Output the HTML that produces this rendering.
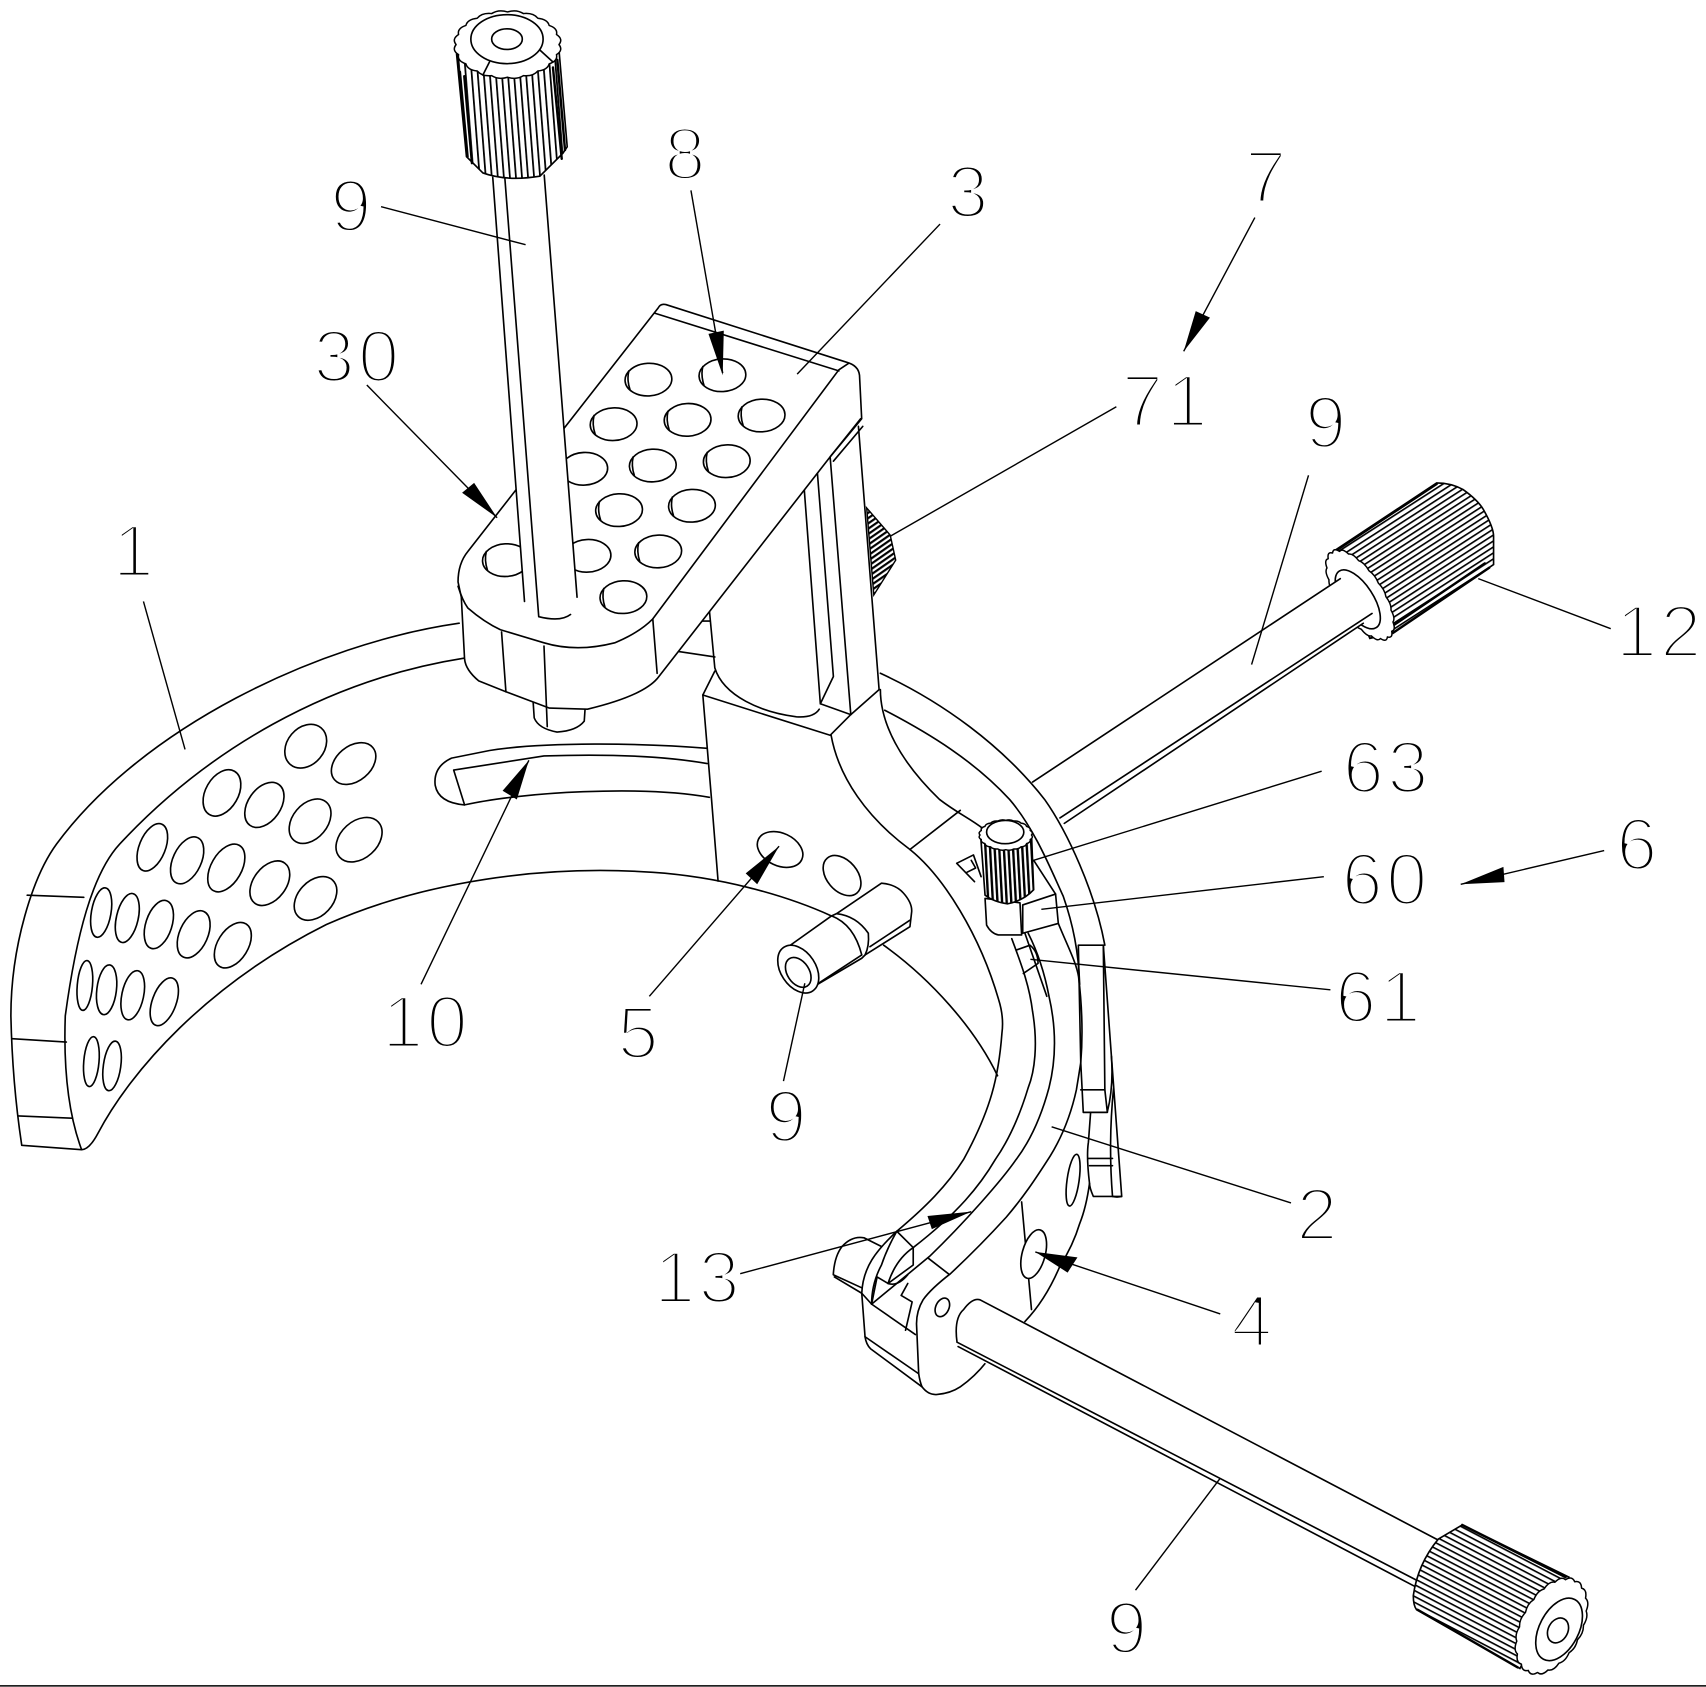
<!DOCTYPE html>
<html><head><meta charset="utf-8"><style>
html,body{margin:0;padding:0;background:#fff;width:1706px;height:1687px;overflow:hidden}
svg{display:block}
.t{font-family:"Liberation Sans",sans-serif;font-size:68px;fill:#000;stroke:#fff;stroke-width:3.6px;paint-order:fill;text-anchor:middle;letter-spacing:3px}
.l{fill:none;stroke:#000;stroke-width:1.5;stroke-linejoin:round;stroke-linecap:round}
.ld{fill:none;stroke:#000;stroke-width:1.3}
.w{fill:#fff;stroke:#000;stroke-width:1.5;stroke-linejoin:round}
.a{fill:#000;stroke:none}
.sc{fill:#fff;stroke:#000;stroke-width:1.5;vector-effect:non-scaling-stroke;stroke-linejoin:round}
.th{fill:none;stroke:#000;stroke-width:2.2;stroke-linecap:round}
</style></head><body>
<svg width="1706" height="1687" viewBox="0 0 1558 1551" preserveAspectRatio="none" xmlns="http://www.w3.org/2000/svg">
<defs>
<pattern id="k1" width="5.5" height="20" patternUnits="userSpaceOnUse" patternTransform="rotate(-4.4)"><rect width="5.5" height="20" fill="#fff"/><rect width="1.6" height="20" fill="#000"/></pattern>
<pattern id="k2" width="20" height="4.6" patternUnits="userSpaceOnUse" patternTransform="rotate(-33)"><rect width="20" height="4.6" fill="#fff"/><rect width="20" height="1.5" fill="#000"/></pattern>
<pattern id="k3" width="20" height="4.8" patternUnits="userSpaceOnUse" patternTransform="rotate(27.6)"><rect width="20" height="4.8" fill="#fff"/><rect width="20" height="1.5" fill="#000"/></pattern>
<pattern id="k4" width="4.2" height="20" patternUnits="userSpaceOnUse" patternTransform="rotate(-3)"><rect width="4.2" height="20" fill="#fff"/><rect width="2.2" height="20" fill="#000"/></pattern>
<pattern id="k5" width="20" height="4" patternUnits="userSpaceOnUse" patternTransform="rotate(-35)"><rect width="20" height="4" fill="#fff"/><rect width="20" height="2" fill="#000"/></pattern>
<g id="h"><ellipse rx="21.5" ry="15" transform="rotate(-3)" class="w"/><path class="l" d="M-18,-8 Q-20,0 -17,9"/></g>
<path id="s" class="sc" d="M100,0Q108.7,17.2 95.1,30.9Q98,49.9 80.9,58.8Q77.8,77.8 58.8,80.9Q49.9,98 30.9,95.1Q17.2,108.7 0,100Q-17.2,108.7 -30.9,95.1Q-49.9,98 -58.8,80.9Q-77.8,77.8 -80.9,58.8Q-98,49.9 -95.1,30.9Q-108.7,17.2 -100,0Q-108.7,-17.2 -95.1,-30.9Q-98,-49.9 -80.9,-58.8Q-77.8,-77.8 -58.8,-80.9Q-49.9,-98 -30.9,-95.1Q-17.2,-108.7 0,-100Q17.2,-108.7 30.9,-95.1Q49.9,-98 58.8,-80.9Q77.8,-77.8 80.9,-58.8Q98,-49.9 95.1,-30.9Q108.7,-17.2 100,0Z"/>
</defs>
<rect width="1558" height="1551" fill="#fff"/>

<!-- labels -->
<g class="t" transform="translate(2 0) scale(.9936 1)">
<text x="322" y="213">9</text>
<text x="629" y="165">8</text>
<text x="889" y="200">3</text>
<text x="1163" y="186">7</text>
<text x="327" y="351">30</text>
<text x="1070" y="392">71</text>
<text x="1218" y="412">9</text>
<text x="122" y="530">1</text>
<text x="1524" y="604">12</text>
<text x="1273" y="729">63</text>
<text x="1504" y="800">6</text>
<text x="1272" y="832">60</text>
<text x="1266" y="940">61</text>
<text x="390" y="963">10</text>
<text x="586" y="973">5</text>
<text x="722" y="1050">9</text>
<text x="1210" y="1140">2</text>
<text x="640" y="1198">13</text>
<text x="1150" y="1238">4</text>
<text x="1035" y="1520">9</text>
</g>

<!-- bottom rule -->
<path d="M0,1550H1558" stroke="#000" stroke-width="1.4"/>

<!-- part 1 band -->
<g transform="scale(.9936 1)">
<g class="l">
<path d="M422,573C290,592 130,670 52,776C30,806 10,870 10,934C11,980 15,1020 20,1053L75,1057"/>
<path d="M427,605C300,625 190,690 110,776C85,803 70,860 60,934C58,990 65,1030 75,1057"/>
<path d="M75,1057Q82,1057 90,1042C120,985 190,905 300,850C390,810 500,795 600,802C660,806 720,822 764,842"/>
<path d="M25,823L77,825M11,955L61,958M17,1026L66,1028"/>
<!-- slot -->
<path d="M650,688C590,683 500,682 450,690L415,697Q398,705 400,722Q403,738 427,740C480,728 590,722 652,733"/>
<path d="M417,708L500,695C560,693 610,695 650,702M417,708L427,740"/>
</g>
<!-- holes part 1 -->
<g class="l">
<ellipse cx="281" cy="686" rx="17" ry="22" transform="rotate(40 281 686)"/>
<ellipse cx="325" cy="702" rx="16" ry="23" transform="rotate(50 325 702)"/>
<ellipse cx="204" cy="729" rx="15" ry="23" transform="rotate(30 204 729)"/>
<ellipse cx="243" cy="740" rx="15" ry="23" transform="rotate(35 243 740)"/>
<ellipse cx="285" cy="755" rx="16" ry="23" transform="rotate(40 285 755)"/>
<ellipse cx="330" cy="772" rx="17" ry="24" transform="rotate(48 330 772)"/>
<ellipse cx="140" cy="779" rx="12" ry="23" transform="rotate(22 140 779)"/>
<ellipse cx="172" cy="791" rx="13" ry="23" transform="rotate(25 172 791)"/>
<ellipse cx="208" cy="798" rx="14" ry="24" transform="rotate(30 208 798)"/>
<ellipse cx="248" cy="812" rx="15" ry="23" transform="rotate(37 248 812)"/>
<ellipse cx="290" cy="826" rx="16" ry="23" transform="rotate(43 290 826)"/>
<ellipse cx="93" cy="839" rx="9" ry="23" transform="rotate(10 93 839)"/>
<ellipse cx="117" cy="844" rx="10" ry="23" transform="rotate(13 117 844)"/>
<ellipse cx="146" cy="850" rx="12" ry="23" transform="rotate(18 146 850)"/>
<ellipse cx="178" cy="859" rx="13" ry="23" transform="rotate(24 178 859)"/>
<ellipse cx="214" cy="869" rx="14" ry="23" transform="rotate(32 214 869)"/>
<ellipse cx="78" cy="906" rx="7" ry="23" transform="rotate(5 78 906)"/>
<ellipse cx="98" cy="910" rx="9" ry="23" transform="rotate(7 98 910)"/>
<ellipse cx="122" cy="915" rx="10" ry="23" transform="rotate(12 122 915)"/>
<ellipse cx="151" cy="921" rx="11" ry="23" transform="rotate(20 151 921)"/>
<ellipse cx="84" cy="976" rx="7" ry="23" transform="rotate(5 84 976)"/>
<ellipse cx="103" cy="980" rx="8" ry="23" transform="rotate(8 103 980)"/>
<ellipse cx="717" cy="781" rx="22" ry="15" transform="rotate(25 717 781)"/>
</g>
</g>

<!-- right band arcs -->
<g class="l">
<path d="M807,869C850,900 890,945 911,989"/>
<path d="M804,619C860,645 915,685 954,735C975,765 1000,820 1009,869"/>
<path d="M808,653C850,675 890,700 922,735C945,762 960,800 971,824C980,850 985,875 986,905"/>
<path d="M804,634C804,665 822,700 858,735C875,748 885,752 898,762"/>
<path d="M831,781L877,745"/>
<path d="M944,791L964,822"/>
<path d="M759,676C766,715 792,752 831,781C862,806 895,860 912,919Q917,935 915,950C912,990 905,1020 880,1066C865,1090 845,1110 819,1132C800,1150 788,1165 787,1189L790,1229Q791,1236 795,1240L842,1275"/>
<path d="M924,863C932,885 940,905 943,930C948,960 945,985 939,1000C930,1030 920,1050 909,1066C895,1090 875,1115 834,1147"/>
<path d="M834,1147L834,1163L811,1180Q818,1158 834,1147"/>
<path d="M811,1180Q820,1183 829,1172"/>
<path d="M939,858C950,880 955,900 958,916Q968,960 958,1000C950,1030 940,1050 928,1066C915,1085 880,1125 849,1155L796,1199"/>
<path d="M936,858L956,916"/>
<path d="M966.5,849C975,870 983,885 985,898Q990,940 987,977Q985,990 983,1002C978,1025 970,1045 959,1063C945,1085 935,1100 919,1119C900,1140 885,1155 868,1171Q850,1185 843,1195Q837,1205 837,1217L839,1263Q840,1270 842,1275Q848,1283 856,1282Q868,1281 877,1275Q890,1266 901,1252"/>
<!-- tab -->
<path d="M984.8,869H1007.6L1009,1002L1011.3,1022.7H989.3L987,977Z"/>
<path d="M987,1002H1009"/>
<path d="M1007.6,869Q1012,930 1015,971Q1017,1000 1011.3,1022"/>
<path d="M1015,971L1024.4,1100Q1020,1101 1016,1100Q1012,1050 1017,1000"/>
<path d="M1024.4,1100H998.5Q995,1092 995,1088Q992,1063 994,1050L996,1022.7"/>
<path d="M994,1065H1016M995,1071.7H1016"/>
<!-- lower part 1 -->
<path d="M995,1088Q992,1110 986,1125Q980,1145 968,1164Q955,1195 936,1215"/>
<path d="M933,1105L942,1204"/>
<ellipse cx="944" cy="1153" rx="10.5" ry="23" transform="rotate(15 944 1153)" class="w"/>
<ellipse cx="980" cy="1085" rx="5.5" ry="24" transform="rotate(8 980 1085)"/>
<!-- claw -->
<path d="M787,1189L796,1199L836,1227M790,1229L839,1263"/>
<ellipse cx="860.6" cy="1202" rx="6" ry="9" transform="rotate(25 860.6 1202)"/>
<path d="M819,1132L834,1147M848,1157L866,1171"/>
<path d="M796,1199Q796,1180 805,1163Q810,1148 819,1132"/>
<path d="M796,1199L801,1174L811,1180M829,1180L823,1191L833,1197L827,1223"/>
<path d="M787,1189L762,1174M787,1184L761,1172Q762,1155 769,1146Q778,1136 789,1138L805,1146"/>
<ellipse cx="769" cy="805" rx="21" ry="14" transform="rotate(50 769 805)"/>
</g>

<g transform="scale(.9936 1)">
<!-- arm block -->
<g class="l">
<path d="M646,639L763,676L782,657L808,634"/>
<path d="M646,639L654,735L660,810"/>
<path d="M646,639L657,617"/>
<path d="M624,599L657,604"/>
<path d="M644,571H652"/>
<path d="M652,561L657,614C665,640 700,655 732,659Q748,660 753,652"/>
<path d="M739,447L754,647L782,657"/>
<path d="M751,431L766,622L754,647"/>
<path d="M763,420L782,657"/>
<path d="M789,392L808,634"/>
</g>
</g>

<!-- 71 knob -->
<path d="M791.5,467L813,492L818,515L798,547Z" fill="url(#k5)" stroke="#000" stroke-width="1.3"/>

<g transform="scale(.9936 1)">
<!-- bolt under plate -->
<path class="w" d="M490,645L491,660Q495,670 512,673Q530,672 537,663L538,648Z"/>
<!-- plate -->
<path class="w" d="M421,535Q421,518 430,507L605,283Q607,279 612,280L778,333Q789,336 790,345L792,385L763,420L604,624Q590,640 540,652L505,651L465,636L440,626Q428,616 427,606L424,549Z"/>
<path class="l" d="M421,539Q425,552 430,559Q445,572 460,579L500,591Q530,600 565,591Q587,582 600,569L771,340L780,334"/>
<path class="l" d="M602,288L771,341"/>
<path class="l" d="M461,581L465,636M500,594L503,668M600,569L604,619"/>
<path class="l" d="M763,420L791,385M766,424L793,392"/>
<!-- holes on plate -->
<use href="#h" x="596" y="349"/><use href="#h" x="664" y="345"/>
<use href="#h" x="564" y="390"/><use href="#h" x="632" y="386"/><use href="#h" x="700" y="382"/>
<use href="#h" x="537" y="431"/><use href="#h" x="600" y="428"/><use href="#h" x="668" y="424"/>
<use href="#h" x="569" y="469"/><use href="#h" x="636" y="465"/>
<use href="#h" x="465" y="515"/><use href="#h" x="540" y="511"/><use href="#h" x="605" y="507"/>
<use href="#h" x="573" y="549"/>
</g>

<!-- vertical rod -->
<path d="M450,163L497,161L527,549Q517,567 502,567L492,567L479,553Z" fill="#fff"/>
<path class="l" d="M450,163L479,553M461,163L492,567Q512,572 521,565M497,161L527,549"/>
<!-- knob 1 -->
<path d="M417,50L426,144L441,159Q463,167 493,162L514,141L518,135L510,40Z" fill="url(#k1)" stroke="#000" stroke-width="1.5"/>
<path class="th" d="M420,66L427,144M424,70L431,150M505,62L513,146M509,55L516,138"/>
<use href="#s" transform="translate(463.5 41) scale(.47 .30)"/>
<ellipse cx="463" cy="36" rx="33" ry="22.5" class="w"/>
<ellipse cx="463" cy="36" rx="14" ry="9.5" class="w"/>
<path class="l" d="M447,57L441,69M493,46L505,57"/>

<!-- right knob -->
<path d="M1219,506L1312,444Q1325,444 1336,450Q1350,460 1355,469Q1364,485 1364,493L1364,519L1272,582L1251,587Z" fill="url(#k2)" stroke="#000" stroke-width="1.5"/>
<path class="th" d="M1222,505L1312,445M1272,582L1360,522M1268,578L1356,518"/>
<use href="#s" transform="translate(1242 547) rotate(-33) scale(.20 .46)"/>
<ellipse cx="1240" cy="551" rx="14" ry="31" transform="rotate(-33 1240 551)" class="w"/>
<!-- right rod -->
<path d="M943,719L1224,532L1245,573L972,757L968,752Z" fill="#fff"/>
<path d="M943,719L1224,532M968,752L1253,564M972,757L1245,573" class="l"/>

<!-- bottom rod & knob -->
<path d="M895,1195L1315.5,1417L1296,1457L901,1254L874,1238Q871,1212 880,1204Q888,1193 895,1195Z" fill="#fff"/>
<path d="M874,1234Q871,1212 880,1204Q888,1193 895,1195L1315.5,1417M874,1234L1296,1454M875,1238L1293,1459" class="l"/>
<g transform="translate(777 -2) scale(.9936 1) translate(-779 0)">
<path d="M1319,1417L1341,1404L1439,1452L1394,1536L1299,1482Q1296,1478 1296,1469Q1300,1440 1319,1417Z" fill="url(#k3)" stroke="#000" stroke-width="1.5"/>
<path class="th" d="M1341,1404L1436,1452M1300,1482L1392,1535"/>
<use href="#s" transform="translate(1423 1497) rotate(27.6) scale(.27 .46)"/>
<ellipse cx="1430" cy="1500" rx="18" ry="31" transform="rotate(27.6 1430 1500)" class="w"/>
<ellipse cx="1429" cy="1501" rx="9" ry="12" transform="rotate(27.6 1429 1501)" class="w"/>
</g>

<!-- small cylinder -->
<path class="w" d="M719,871L759.5,842L764,840L805,812Q818,813 825,821Q833,830 832.6,838L831,852L790,878L787,881L745,906Q732,912 722,905Z"/>
<path class="l" d="M831,846L794.5,870.4M787,878L745,905.6"/>
<path class="l" d="M759.5,842Q780,850 787,878M764,840Q782,842 793,858Q794,870 790,878"/>
<ellipse cx="729" cy="891" rx="16" ry="24" transform="rotate(-33 729 891)" class="w"/>
<ellipse cx="729" cy="894" rx="10" ry="15" transform="rotate(-33 729 894)" class="w"/>

<!-- small knob & block -->
<path class="l" d="M873.7,793.7L889,786L896,806M873.7,793.7L890,810.6M887,791L891,798L883,802"/>
<path class="w" d="M934,832L964,822L966.5,849L934,858Z"/>
<path class="w" d="M899.6,826L901,850.5Q905,858 911.7,859.6L933,859.6L931.5,830Z"/>
<path d="M895.6,769L899.6,823Q907,829 920,831Q935,828 944,818L942,766Z" fill="url(#k4)" stroke="#000" stroke-width="1.5"/>
<use href="#s" transform="translate(918.5 767.7) scale(.235 .135)"/>
<ellipse cx="918" cy="765" rx="17" ry="10.7" class="w"/>
<path class="l" d="M928,873.5L940.7,869Q948,875 948,885.7L934.6,895"/>

<!-- leaders & arrowheads -->
<g class="ld">
<path d="M348,190L480,225"/>
<path d="M631,175L660,343"/>
<path d="M858.5,206L728,344"/>
<path d="M1146,200L1081,323"/>
<path d="M335,354L454,476"/>
<path d="M1019.5,374L813,493"/>
<path d="M1195,437L1143,611"/>
<path d="M131,553L169,689"/>
<path d="M1471,578L1350,532"/>
<path d="M1207,709L944,791"/>
<path d="M1465,782L1334,813"/>
<path d="M1209,806L951,836"/>
<path d="M1215,910L941,882"/>
<path d="M384.5,905L483,699"/>
<path d="M593,916L711.5,778"/>
<path d="M715.5,994L735,904"/>
<path d="M1179,1106L960.4,1036"/>
<path d="M676,1171L887,1114"/>
<path d="M1114.4,1208L945.5,1151"/>
<path d="M1037,1462L1114.4,1359"/>
</g>
<g class="a">
<polygon points="647,307 661,304 660,345"/>
<polygon points="1092,286 1105,292 1081,323"/>
<polygon points="422,453 433,444 454,476"/>
<polygon points="1373,797 1374,811 1334,813"/>
<polygon points="459,727 472,735 483,699"/>
<polygon points="681,803 691.5,813 711.5,778"/>
<polygon points="847,1118 851,1130 887,1114"/>
<polygon points="984,1156 975,1170 945.5,1151"/>
</g>
</svg>
</body></html>
